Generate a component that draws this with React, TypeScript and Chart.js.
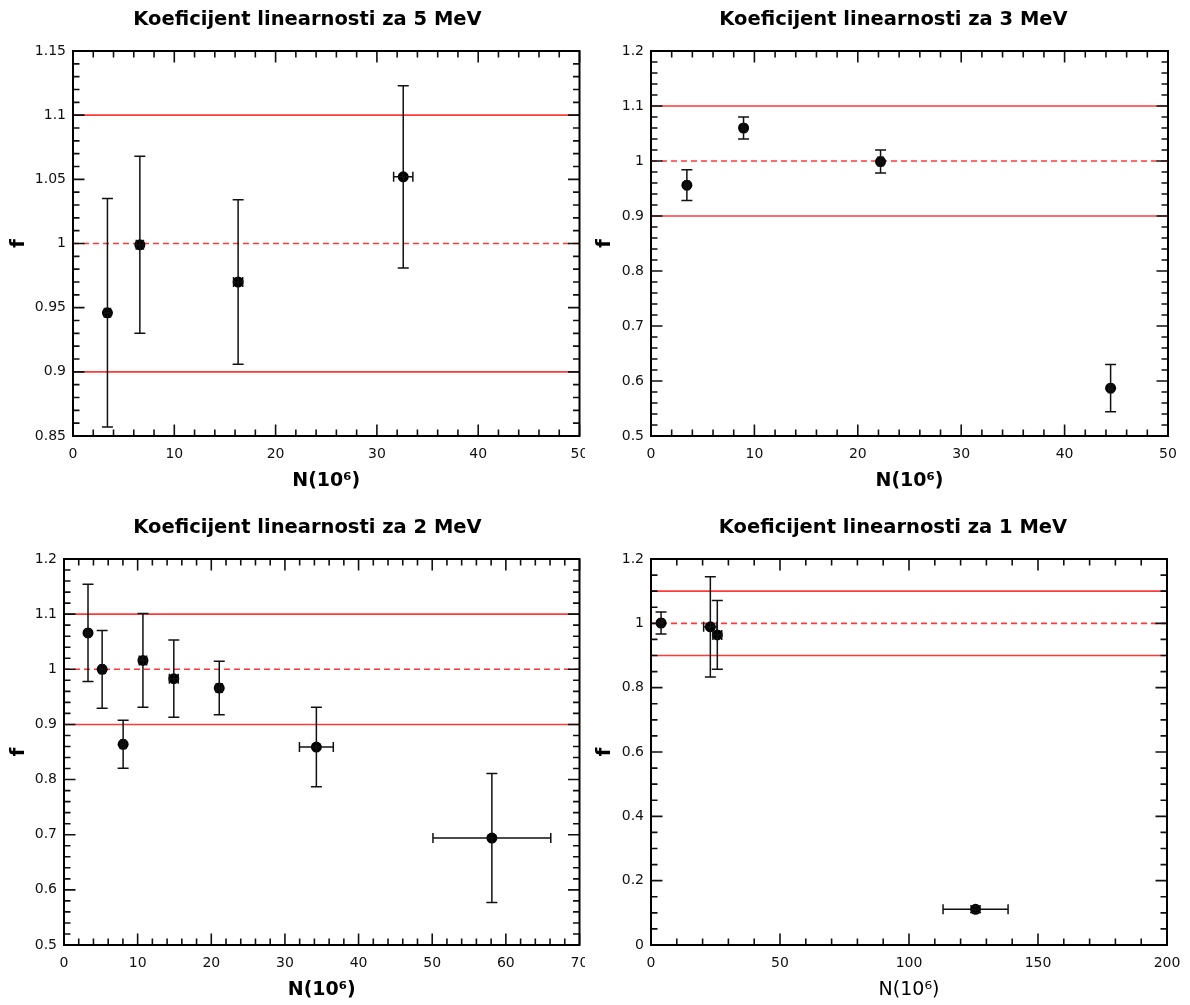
import React, { useEffect, useRef } from "react";
import { Chart, registerables } from "chart.js";
Chart.register(...registerables);

// ---------- data ----------
// 5 MeV
const n5 = [3.4, 6.6, 16.3, 32.6];
const f5 = [0.946, 0.999, 0.970, 1.052];
const fErr5 = [0.089, 0.069, 0.064, 0.071];
const nErr5 = [0.3, 0.35, 0.45, 0.95];
// 3 MeV
const n3 = [3.47, 8.95, 22.2, 44.45];
const f3 = [0.956, 1.06, 0.999, 0.587];
const fErr3 = [0.028, 0.02, 0.021, 0.043];
const nErr3 = [0.2, 0.2, 0.25, 0.2];
// 2 MeV
const n2 = [3.26, 5.18, 8.03, 10.72, 14.91, 21.08, 34.27, 58.1];
const f2 = [1.066, 1.0, 0.864, 1.016, 0.983, 0.966, 0.859, 0.694];
const fErr2 = [0.088, 0.0705, 0.0435, 0.085, 0.07, 0.0485, 0.072, 0.117];
const nErr2 = [0.3, 0.3, 0.3, 0.5, 0.6, 0.4, 2.3, 8.0];
// 1 MeV
const n1 = [3.9, 23.0, 25.7, 125.8];
const f1 = [1.001, 0.989, 0.964, 0.111];
const fErr1 = [0.034, 0.156, 0.107, 0.01];
const nErr1 = [0.8, 2.6, 1.7, 12.6];

const refSolid = [0.9, 1.1];
const refDashed = [1.0];

const titles = [
  "Koeficijent linearnosti za 5 MeV",
  "Koeficijent linearnosti za 3 MeV",
  "Koeficijent linearnosti za 2 MeV",
  "Koeficijent linearnosti za 1 MeV",
];
const xAxisTitle = "N(10\u2076)";
const yAxisTitle = "f";

// ---------- style ----------
const RED = "#ff3838";
const FONT = "'DejaVu Sans', Verdana, sans-serif";

type Box = { left: number; top: number; w: number; h: number };
type PanelCfg = {
  title: string;
  xs: number[];
  ys: number[];
  xErr: number[];
  yErr: number[];
  xRange: [number, number];
  yRange: [number, number];
  xStep: number;
  xMinor: number;
  yStep: number;
  yMinor: number;
  xTitleBold: boolean;
  box: Box;
  padL: number;
  padR: number;
  yW: number;
  xH: number;
  xTitlePB: number;
};

const panels: PanelCfg[] = [
  {
    title: titles[0], xs: n5, ys: f5, xErr: nErr5, yErr: fErr5,
    xRange: [0, 50], yRange: [0.85, 1.15], xStep: 10, xMinor: 2, yStep: 0.05, yMinor: 0.01,
    xTitleBold: true,
    box: { left: 0, top: 0, w: 585, h: 508 }, padL: 33, padR: 3, yW: 40, xH: 72, xTitlePB: 15.3,
  },
  {
    title: titles[1], xs: n3, ys: f3, xErr: nErr3, yErr: fErr3,
    xRange: [0, 50], yRange: [0.5, 1.2], xStep: 10, xMinor: 2, yStep: 0.1, yMinor: 0.02,
    xTitleBold: true,
    box: { left: 585, top: 0, w: 605, h: 508 }, padL: 34, padR: 22, yW: 32, xH: 72, xTitlePB: 15.3,
  },
  {
    title: titles[2], xs: n2, ys: f2, xErr: nErr2, yErr: fErr2,
    xRange: [0, 70], yRange: [0.5, 1.2], xStep: 10, xMinor: 2, yStep: 0.1, yMinor: 0.02,
    xTitleBold: true,
    box: { left: 0, top: 508, w: 585, h: 497 }, padL: 33, padR: 3, yW: 31, xH: 60, xTitlePB: 3.3,
  },
  {
    title: titles[3], xs: n1, ys: f1, xErr: nErr1, yErr: fErr1,
    xRange: [0, 200], yRange: [0, 1.2], xStep: 50, xMinor: 10, yStep: 0.2, yMinor: 0.05,
    xTitleBold: false,
    box: { left: 585, top: 508, w: 605, h: 497 }, padL: 34, padR: 23, yW: 32, xH: 60, xTitlePB: 3.3,
  },
];

function stepValues(min: number, max: number, step: number): number[] {
  const out: number[] = [];
  const n = Math.round((max - min) / step);
  for (let i = 0; i <= n; i++) out.push(min + i * step);
  return out;
}
function isMultiple(v: number, step: number): boolean {
  const r = v / step;
  return Math.abs(r - Math.round(r)) < 1e-6;
}

function makeErrorBars(cfg: PanelCfg) {
  return {
    id: "errorBars",
    afterDatasetsDraw(chart: any) {
      const { ctx, scales } = chart;
      const x = scales.x;
      const y = scales.y;
      ctx.save();
      ctx.strokeStyle = "#111";
      ctx.lineWidth = 1.5;
      const capY = 5.5;
      const capX = 5;
      for (let i = 0; i < cfg.xs.length; i++) {
        const px = x.getPixelForValue(cfg.xs[i]);
        const py = y.getPixelForValue(cfg.ys[i]);
        if (cfg.yErr[i] > 0) {
          const t = y.getPixelForValue(cfg.ys[i] + cfg.yErr[i]);
          const b = y.getPixelForValue(cfg.ys[i] - cfg.yErr[i]);
          ctx.beginPath();
          ctx.moveTo(px, t); ctx.lineTo(px, b);
          ctx.moveTo(px - capY, t); ctx.lineTo(px + capY, t);
          ctx.moveTo(px - capY, b); ctx.lineTo(px + capY, b);
          ctx.stroke();
        }
        if (cfg.xErr[i] > 0) {
          const l = x.getPixelForValue(cfg.xs[i] - cfg.xErr[i]);
          const r = x.getPixelForValue(cfg.xs[i] + cfg.xErr[i]);
          ctx.beginPath();
          ctx.moveTo(l, py); ctx.lineTo(r, py);
          ctx.moveTo(l, py - capX); ctx.lineTo(l, py + capX);
          ctx.moveTo(r, py - capX); ctx.lineTo(r, py + capX);
          ctx.stroke();
        }
      }
      ctx.restore();
    },
  };
}

function makeFrame(cfg: PanelCfg) {
  return {
    id: "frameTicks",
    afterDraw(chart: any) {
      const { ctx, chartArea: a, scales } = chart;
      const x = scales.x;
      const y = scales.y;
      const MAJ = 11.5;
      const MIN = 6.5;
      ctx.save();
      ctx.strokeStyle = "#111";
      ctx.lineWidth = 1.6;
      ctx.beginPath();
      for (const v of stepValues(cfg.xRange[0], cfg.xRange[1], cfg.xMinor)) {
        const px = x.getPixelForValue(v);
        const len = isMultiple(v, cfg.xStep) ? MAJ : MIN;
        ctx.moveTo(px, a.bottom); ctx.lineTo(px, a.bottom - len);
        ctx.moveTo(px, a.top); ctx.lineTo(px, a.top + len);
      }
      for (const v of stepValues(cfg.yRange[0], cfg.yRange[1], cfg.yMinor)) {
        const py = y.getPixelForValue(v);
        const len = isMultiple(v, cfg.yStep) ? MAJ : MIN;
        ctx.moveTo(a.left, py); ctx.lineTo(a.left + len, py);
        ctx.moveTo(a.right, py); ctx.lineTo(a.right - len, py);
      }
      ctx.stroke();
      ctx.lineWidth = 2;
      ctx.strokeStyle = "#000";
      ctx.strokeRect(a.left, a.top, a.right - a.left, a.bottom - a.top);
      ctx.restore();
    },
  };
}

function buildConfig(cfg: PanelCfg): any {
  const [xmin, xmax] = cfg.xRange;
  const [ymin, ymax] = cfg.yRange;
  const points = cfg.xs.map((v, i) => ({ x: v, y: cfg.ys[i] }));
  const datasets: any[] = [
    {
      data: points,
      pointRadius: 5.5,
      pointHoverRadius: 5.5,
      pointBackgroundColor: "#000",
      pointBorderColor: "#000",
      pointBorderWidth: 0,
      showLine: false,
    },
    ...refSolid.map((v) => ({
      data: [{ x: xmin, y: v }, { x: xmax, y: v }],
      showLine: true,
      borderColor: RED,
      borderWidth: 1.6,
      pointRadius: 0,
    })),
    ...refDashed.map((v) => ({
      data: [{ x: xmin, y: v }, { x: xmax, y: v }],
      showLine: true,
      borderColor: RED,
      borderWidth: 1.6,
      borderDash: [6, 4],
      pointRadius: 0,
    })),
  ];
  const fmt = (v: number | string) => String(Number(Number(v).toFixed(3)));
  return {
    type: "scatter",
    data: { datasets },
    plugins: [makeErrorBars(cfg), makeFrame(cfg)],
    options: {
      animation: false,
      responsive: false,
      events: [],
      layout: { padding: { left: cfg.padL, right: cfg.padR, top: 0, bottom: 0 } },
      plugins: {
        legend: { display: false },
        tooltip: { enabled: false },
        title: {
          display: true,
          text: cfg.title,
          color: "#000",
          font: { family: FONT, size: 19.5, weight: "bold", lineHeight: 1.2 },
          padding: { top: 8, bottom: 19.6 },
        },
      },
      scales: {
        x: {
          type: "linear",
          min: xmin,
          max: xmax,
          grid: { display: false, drawTicks: false },
          border: { display: false },
          ticks: {
            stepSize: cfg.xStep,
            autoSkip: false,
            maxRotation: 0,
            padding: 10,
            color: "#111",
            font: { family: FONT, size: 14 },
            callback: fmt,
          },
          title: {
            display: true,
            text: xAxisTitle,
            color: "#000",
            font: { family: FONT, size: 19, weight: cfg.xTitleBold ? "bold" : "normal", lineHeight: 1.2 },
            padding: { top: 0, bottom: cfg.xTitlePB },
          },
          afterFit: (s: any) => {
            s.height = cfg.xH;
            s.paddingLeft = 0;
            s.paddingRight = 0;
          },
        },
        y: {
          type: "linear",
          min: ymin,
          max: ymax,
          grid: { display: false, drawTicks: false },
          border: { display: false },
          ticks: {
            stepSize: cfg.yStep,
            autoSkip: false,
            padding: 7,
            color: "#111",
            font: { family: FONT, size: 14 },
            callback: fmt,
          },
          title: {
            display: true,
            text: yAxisTitle,
            color: "#000",
            font: { family: FONT, size: 19.5, weight: "bold", lineHeight: 1.2 },
            padding: { top: -25.7, bottom: 0 },
          },
          afterFit: (s: any) => {
            s.width = cfg.yW;
            s.paddingTop = 0;
            s.paddingBottom = 0;
          },
        },
      },
    },
  };
}

function Panel({ cfg }: { cfg: PanelCfg }) {
  const ref = useRef<HTMLCanvasElement>(null);
  useEffect(() => {
    const chart = new Chart(ref.current as HTMLCanvasElement, buildConfig(cfg));
    return () => chart.destroy();
  }, [cfg]);
  const { left, top, w, h } = cfg.box;
  return (
    <div style={{ position: "absolute", left, top, width: w, height: h, overflow: "hidden" }}>
      <canvas ref={ref} width={w} height={h} style={{ display: "block", width: w, height: h }} />
    </div>
  );
}

export default function App() {
  return (
    <div
      style={{
        position: "absolute",
        left: 0,
        top: 0,
        width: 1190,
        height: 1005,
        overflow: "hidden",
        background: "#fff",
      }}
    >
      {panels.map((p, i) => (
        <Panel key={i} cfg={p} />
      ))}
    </div>
  );
}
